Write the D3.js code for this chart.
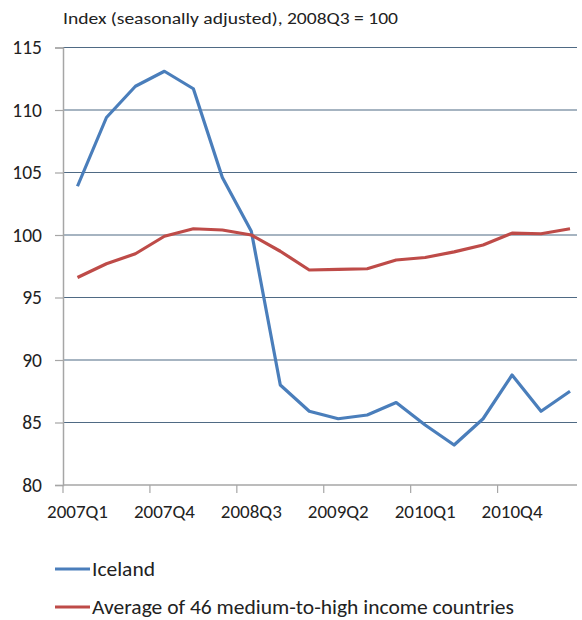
<!DOCTYPE html>
<html>
<head>
<meta charset="utf-8">
<script src="https://cdn.jsdelivr.net/npm/d3@7"></script>
<style>
  html, body { margin: 0; padding: 0; background: #ffffff; }
  svg text { font-family: Carlito, Lato, "Open Sans", sans-serif; fill: #222; }
</style>
</head>
<body>
<svg id="chart" width="582" height="620"></svg>
<script>
const categories = ["2007Q1","2007Q2","2007Q3","2007Q4","2008Q1","2008Q2","2008Q3","2008Q4","2009Q1","2009Q2","2009Q3","2009Q4","2010Q1","2010Q2","2010Q3","2010Q4","2011Q1","2011Q2"];
const iceland = [103.9, 109.4, 111.9, 113.1, 111.7, 104.6, 100.3, 88.0, 85.9, 85.3, 85.6, 86.6, 84.8, 83.2, 85.3, 88.8, 85.9, 87.5];
const average = [96.6, 97.7, 98.5, 99.9, 100.5, 100.4, 100.0, 98.7, 97.2, 97.25, 97.3, 98.0, 98.2, 98.65, 99.2, 100.15, 100.1, 100.5];
const yTicks = [80, 85, 90, 95, 100, 105, 110, 115];
const xTickLabels = ["2007Q1","2007Q4","2008Q3","2009Q2","2010Q1","2010Q4"];
const seriesNames = ["Iceland", "Average of 46 medium-to-high income countries"];
const title = "Index (seasonally adjusted), 2008Q3 = 100";

(function () {
const colors = ["#4A7EBB", "#BE4B48"];
const svg = d3.select("#chart");

const mLeft = 63, mRight = 584.5, mTop = 47.5, mBottom = 485, gridEnd = 577;
const x = d3.scaleBand().domain(categories).range([mLeft, mRight]).padding(0);
const y = d3.scaleLinear().domain([80, 115]).range([mBottom, mTop]);

// gridlines
svg.append("g").selectAll("line").data(yTicks.filter(d => d !== 80)).join("line")
  .attr("x1", mLeft).attr("x2", gridEnd)
  .attr("y1", d => y(d)).attr("y2", d => y(d))
  .attr("stroke", "#4F6A84").attr("stroke-width", 1.2);

// y axis
const yAxis = d3.axisLeft(y).tickValues(yTicks).tickSize(8).tickPadding(13).tickFormat(d3.format("d"));
const gy = svg.append("g").attr("transform", `translate(${mLeft},0)`).call(yAxis);
gy.select(".domain").attr("stroke", "#A6A6A6").attr("stroke-width", 1.5);
gy.selectAll(".tick line").attr("stroke", "#A6A6A6").attr("stroke-width", 1.2);
gy.selectAll(".tick text").attr("font-size", 19.5).attr("fill", "#222")
  .attr("font-family", "Carlito, Lato, sans-serif");

// x axis (ticks between categories)
const tickPositions = categories.filter((c, i) => i % 3 === 0).map(c => x(c));
const gx = svg.append("g");
gx.append("line").attr("x1", mLeft).attr("x2", gridEnd).attr("y1", mBottom).attr("y2", mBottom)
  .attr("stroke", "#A6A6A6").attr("stroke-width", 1.5);
gx.selectAll("line.tk").data(tickPositions).join("line").attr("class", "tk")
  .attr("x1", d => d).attr("x2", d => d).attr("y1", mBottom).attr("y2", mBottom + 8)
  .attr("stroke", "#A6A6A6").attr("stroke-width", 1.2);
gx.selectAll("text").data(xTickLabels).join("text")
  .attr("x", d => x(d) + x.bandwidth() / 2)
  .attr("y", mBottom + 33)
  .attr("text-anchor", "middle")
  .attr("font-size", 19)
  .text(d => d);

// lines
const line = d3.line().x((d, i) => x(categories[i]) + x.bandwidth() / 2).y(d => y(d));
[iceland, average].forEach((s, k) => {
  svg.append("path").datum(s).attr("d", line)
    .attr("fill", "none").attr("stroke", colors[k]).attr("stroke-width", 3.2)
    .attr("stroke-linejoin", "round");
});

// title
svg.append("text").attr("x", 63).attr("y", 24).attr("font-size", 16)
  .attr("textLength", 335).attr("lengthAdjust", "spacingAndGlyphs").text(title);

// legend
const legendY = [569, 607];
const legendW = [63, 422];
seriesNames.forEach((n, k) => {
  svg.append("line").attr("x1", 55).attr("x2", 90).attr("y1", legendY[k]).attr("y2", legendY[k])
    .attr("stroke", colors[k]).attr("stroke-width", 3.2);
  svg.append("text").attr("x", 92).attr("y", legendY[k] + 7).attr("font-size", 20)
    .attr("textLength", legendW[k]).attr("lengthAdjust", "spacingAndGlyphs").text(n);
});
})();
</script>
</body>
</html>
